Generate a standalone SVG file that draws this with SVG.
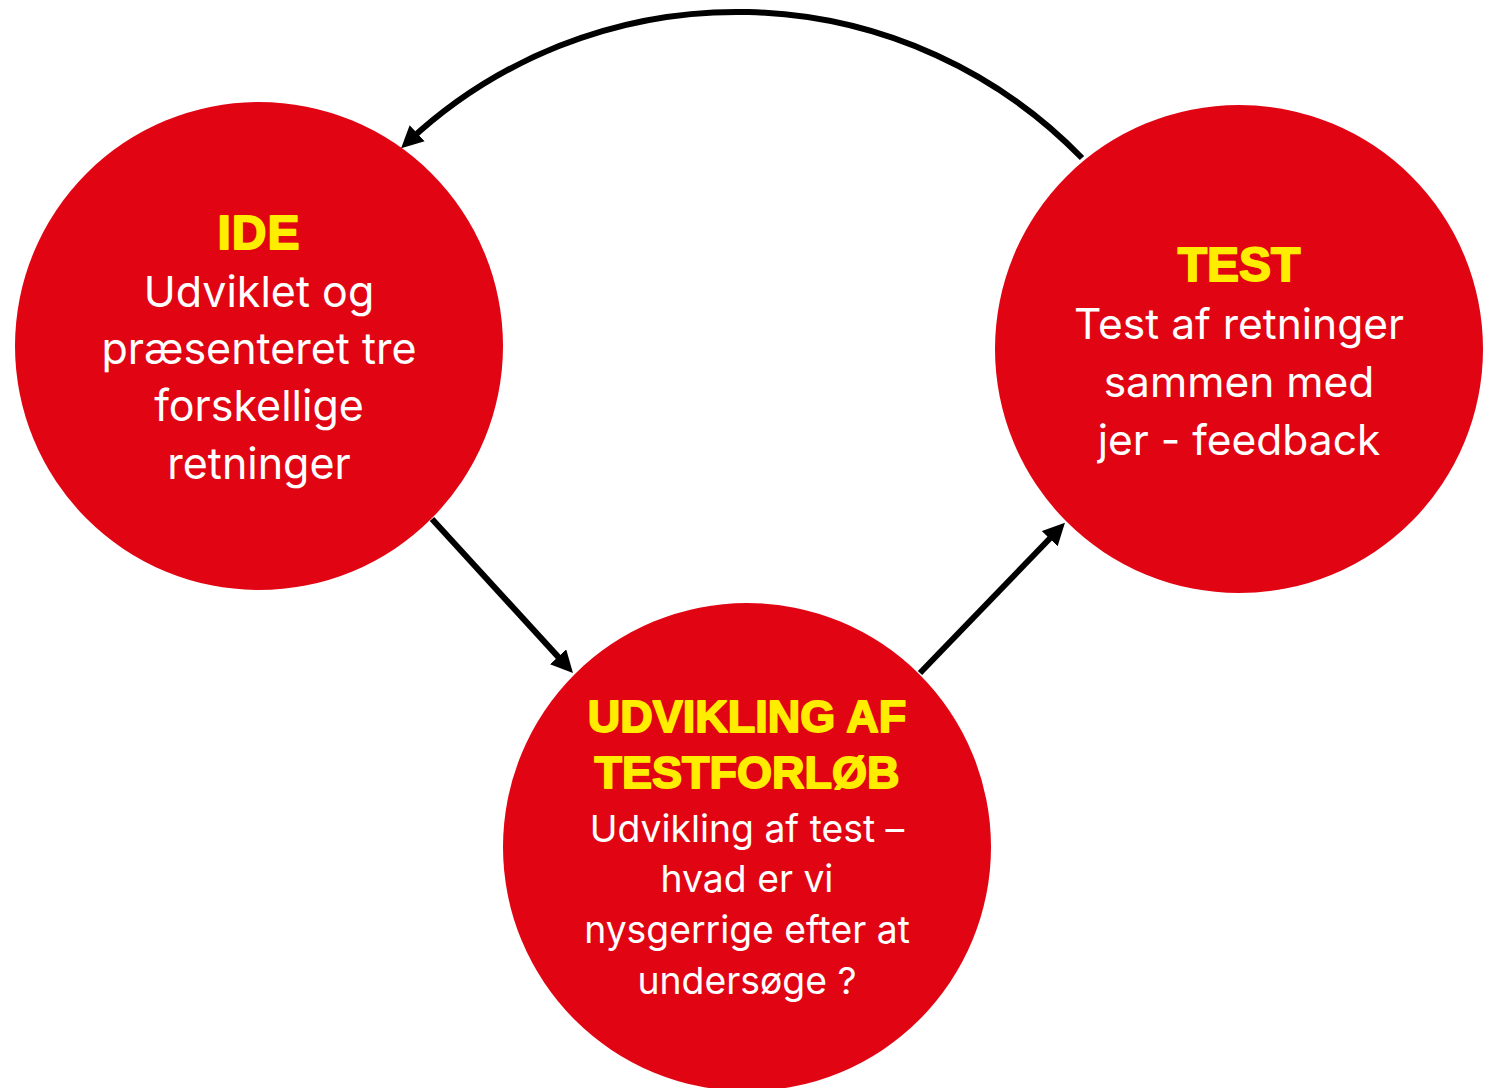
<svg xmlns="http://www.w3.org/2000/svg" width="1496" height="1088" viewBox="0 0 1496 1088">
<style>
.node{fill:#E10514}
.hd{font-family:"Liberation Sans",Arial,sans-serif;font-weight:bold;fill:#FFED00;stroke:#FFED00;stroke-width:1.8;stroke-linejoin:round;text-anchor:middle}
.bd{font-family:Inter,"Open Sans",sans-serif;fill:#FFFFFF;text-anchor:middle}
.conn{fill:none;stroke:#000;stroke-width:6}
</style>
<defs>
<marker id="ah" viewBox="0 0 22 22" refX="12" refY="11" markerWidth="22" markerHeight="22" markerUnits="userSpaceOnUse" orient="auto">
<path d="M0,0 L22,11 L0,22 z" fill="#000"/>
</marker>
</defs>
<rect width="1496" height="1088" fill="#fff"/>
<g id="ide">
<circle class="node" cx="259" cy="346" r="244"/>
<text class="hd" x="259" y="249" font-size="48" letter-spacing="1">IDE</text>
<text class="bd" font-size="43"><tspan x="259" y="307">Udviklet og</tspan><tspan x="259" y="364">præsenteret tre</tspan><tspan x="259" y="421">forskellige</tspan><tspan x="259" y="479">retninger</tspan></text>
</g>
<g id="test">
<circle class="node" cx="1239" cy="349" r="244"/>
<text class="hd" x="1239" y="281" font-size="48">TEST</text>
<text class="bd" font-size="42.5"><tspan x="1239" y="339">Test af retninger</tspan><tspan x="1239" y="397">sammen med</tspan><tspan x="1239" y="455">jer - feedback</tspan></text>
</g>
<g id="udvikling">
<circle class="node" cx="747" cy="847" r="244"/>
<text class="hd" font-size="45"><tspan x="747" y="732">UDVIKLING AF</tspan><tspan x="747" y="788">TESTFORLØB</tspan></text>
<text class="bd" font-size="37.3"><tspan x="747" y="842">Udvikling af test –</tspan><tspan x="747" y="892">hvad er vi</tspan><tspan x="747" y="943">nysgerrige efter at</tspan><tspan x="747" y="994">undersøge ?</tspan></text>
</g>
<g id="connectors">
<path class="conn" d="M1082,158 A481,481 0 0,0 408.4,141.5" marker-end="url(#ah)"/>
<path class="conn" d="M432,519 L566.2,665.6" marker-end="url(#ah)"/>
<path class="conn" d="M920,673 L1058,530" marker-end="url(#ah)"/>
</g>
</svg>
